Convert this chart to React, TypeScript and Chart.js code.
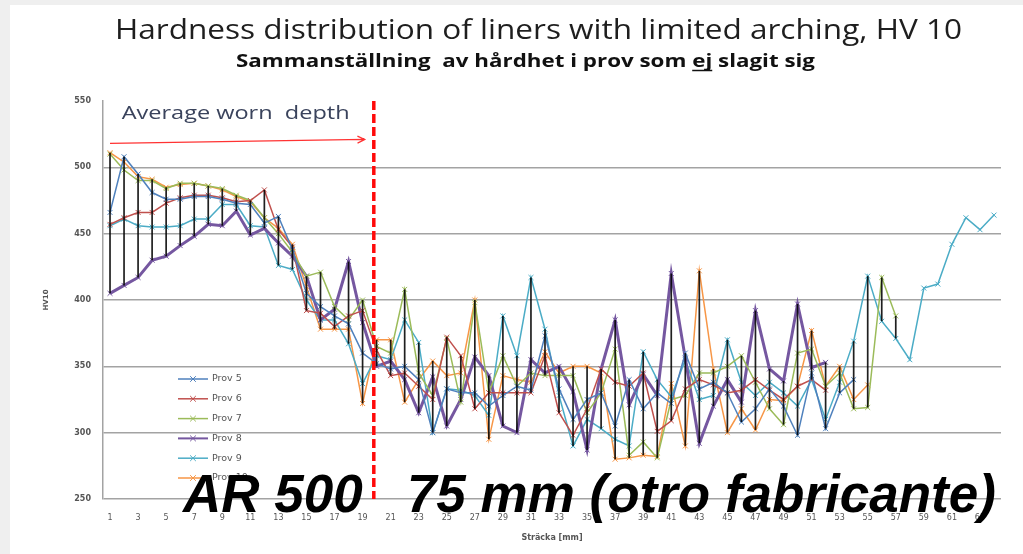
import React, { useEffect, useRef } from 'react';
import { Chart, registerables } from 'chart.js';

Chart.register(...registerables);

// ---------- data ----------
const categories = [
  '1', '2', '3', '4', '5', '6', '7', '8', '9', '10',
  '11', '12', '13', '14', '15', '16', '17', '18', '19', '20',
  '21', '22', '23', '24', '25', '26', '27', '28', '29', '30',
  '31', '32', '33', '34', '35', '36', '37', '38', '39', '40',
  '41', '42', '43', '44', '45', '46', '47', '48', '49', '50',
  '51', '52', '53', '54', '55', '56', '57', '58', '59', '60',
  '61', '62', '63', '64',
];

const _ = null;

const prov5 = [
  466, 508, 495, 481, 476, 476, 478, 478, 476, 473,
  472, 458, 463, 438, 405, 395, 388, 382, 360, 352,
  348, 350, 340, 300, 333, 330, 330, 320, 328, 335,
  332, 373, 333, 310, 325, 330, 305, 340, 318, 330,
  322, 360, 333, 338, 330, 308, 318, 333, 320, 298,
  345, 303, 330, 340, _, _, _, _, _, _,
  _, _, _, _,
];

const prov6 = [
  457, 462, 466, 466, 473, 477, 479, 479, 477, 474,
  475, 483, 453, 440, 392, 390, 380, 388, 392, 362,
  343, 345, 335, 325, 372, 358, 318, 330, 330, 330,
  330, 358, 315, 298, 318, 348, 338, 335, 345, 301,
  309, 333, 340, 336, 330, 332, 340, 332, 325, 335,
  340, 332, _, _, _, _, _, _, _, _,
  _, _, _, _,
];

const prov7 = [
  510, 498, 490, 490, 484, 488, 488, 486, 484, 479,
  475, 462, 450, 436, 418, 421, 395, 385, 400, 365,
  360, 408, 345, 328, 371, 323, 398, 330, 358, 335,
  345, 343, 343, 343, 315, 330, 363, 283, 293, 281,
  325, 328, 345, 345, 350, 358, 338, 318, 306, 360,
  363, 335, 345, 318, 319, 417, 388, _, _, _,
  _, _, _, _,
];

const prov8 = [
  405, 411, 417, 430, 433, 441, 448, 457, 456, 467,
  449, 454, 443, 433, 418, 385, 393, 429, 383, 350,
  354, 340, 315, 342, 305, 325, 357, 343, 305, 300,
  355, 345, 350, 331, 287, 348, 385, 321, 344, 328,
  420, 356, 292, 320, 340, 323, 392, 348, 339, 397,
  349, 353, _, _, _, _, _, _, _, _,
  _, _, _, _,
];

const prov9 = [
  456, 461, 456, 455, 455, 456, 461, 461, 472, 472,
  456, 455, 426, 423, 400, 385, 385, 367, 337, 358,
  355, 385, 368, 300, 333, 332, 328, 313, 388, 358,
  417, 378, 328, 290, 310, 303, 295, 290, 361, 340,
  327, 355, 325, 328, 370, 338, 328, 338, 330, 320,
  340, 310, 338, 369, 418, 384, 371, 355, 409, 412,
  442, 462, 453, 464,
];

const prov10 = [
  511, 504, 493, 491, 485, 487, 488, 486, 483, 478,
  474, 462, 454, 442, 410, 378, 378, 378, 322, 370,
  370, 323, 340, 354, 343, 345, 400, 295, 343, 340,
  338, 361, 345, 350, 350, 345, 280, 281, 283, 282,
  337, 290, 422, 348, 300, 318, 302, 325, 324, 335,
  377, 335, 350, 325, 336, _, _, _, _, _,
  _, _, _, _,
];

const seriesNames = ['Prov 5', 'Prov 6', 'Prov 7', 'Prov 8', 'Prov 9', 'Prov 10'];
const seriesValues = [prov5, prov6, prov7, prov8, prov9, prov10];
const seriesColors = ['#4F81BD', '#C0504D', '#9BBB59', '#7557A0', '#4BACC6', '#F79646'];
const seriesWidths = [1.5, 1.5, 1.5, 3, 1.5, 1.5];

const yMin = 250;
const yMax = 550;
const yStep = 50;

// annotation positions (in category index / value units)
const wornDepthIndex = 18.8;
const arrowFrom = { index: 0, value: 518 };
const arrowTo = { index: 18.15, value: 521 };
const wornTextPos = { index: 0.83, value: 540 };

const titleText = 'Hardness distribution of liners with limited arching, HV 10';
const subtitlePre = 'Sammanställning  av hårdhet i prov som ';
const subtitleUnder = 'ej';
const subtitlePost = ' slagit sig';
const wornText = 'Average worn  depth';
const overlayText = 'AR 500   75 mm (otro fabricante)';
const yTitle = 'HV10';
const xTitle = 'Sträcka [mm]';

// draws text at a given font size, scaled horizontally to a target width
function drawStretched(
  ctx: CanvasRenderingContext2D,
  text: string,
  font: string,
  x: number,
  y: number,
  target: number,
) {
  ctx.font = font;
  const w = ctx.measureText(text).width;
  const sx = target / w;
  ctx.save();
  ctx.translate(x, y);
  ctx.scale(sx, 1);
  ctx.fillText(text, 0, 0);
  ctx.restore();
  return sx;
}

function drawCross(ctx: CanvasRenderingContext2D, x: number, y: number, r: number) {
  const d = r * Math.SQRT1_2;
  ctx.beginPath();
  ctx.moveTo(x - d, y - d);
  ctx.lineTo(x + d, y + d);
  ctx.moveTo(x - d, y + d);
  ctx.lineTo(x + d, y - d);
  ctx.stroke();
}

const decorPlugin = {
  id: 'decor',
  beforeDraw(chart: any) {
    const { ctx, width, height } = chart;
    ctx.save();
    ctx.fillStyle = '#efefef';
    ctx.fillRect(0, 0, width, height);
    ctx.fillStyle = '#ffffff';
    ctx.fillRect(10, 5, width - 10, height - 5);
    ctx.restore();
  },
  afterDatasetsDraw(chart: any) {
    const { ctx } = chart;
    const xs = chart.scales.x;
    const ys = chart.scales.y;
    ctx.save();
    ctx.strokeStyle = 'rgba(0,0,0,0.88)';
    ctx.lineWidth = 1.7;
    for (let i = 0; i < categories.length; i++) {
      const vals = seriesValues.map((s) => s[i]).filter((v) => v !== null && v !== undefined) as number[];
      if (vals.length < 2) continue;
      const px = xs.getPixelForValue(i);
      ctx.beginPath();
      ctx.moveTo(px, ys.getPixelForValue(Math.max(...vals)));
      ctx.lineTo(px, ys.getPixelForValue(Math.min(...vals)));
      ctx.stroke();
    }
    ctx.restore();
  },
  afterDraw(chart: any) {
    const { ctx, chartArea } = chart;
    const xs = chart.scales.x;
    const ys = chart.scales.y;
    ctx.save();

    // Titles
    ctx.fillStyle = '#1e1e1e';
    ctx.textBaseline = 'alphabetic';
    ctx.textAlign = 'left';
    drawStretched(ctx, titleText, '400 28px "Open Sans"', 115, 39, 847);

    ctx.fillStyle = '#111';
    const fullSub = subtitlePre + subtitleUnder + subtitlePost;
    const subFont = '700 17px "Open Sans"';
    const sx = drawStretched(ctx, fullSub, subFont, 236, 67, 579);
    ctx.font = subFont;
    const ux = 236 + ctx.measureText(subtitlePre).width * sx;
    const uw = ctx.measureText(subtitleUnder).width * sx;
    ctx.strokeStyle = '#111';
    ctx.lineWidth = 1.5;
    ctx.beginPath();
    ctx.moveTo(ux, 70.5);
    ctx.lineTo(ux + uw, 70.5);
    ctx.stroke();

    // axis titles
    ctx.fillStyle = '#555';
    ctx.font = '700 8px "DejaVu Sans"';
    ctx.textAlign = 'center';
    ctx.textBaseline = 'middle';
    ctx.fillText(xTitle, (chartArea.left + chartArea.right) / 2, 538);
    ctx.save();
    ctx.translate(46, (chartArea.top + chartArea.bottom) / 2);
    ctx.rotate(-Math.PI / 2);
    ctx.font = '700 7px "DejaVu Sans"';
    ctx.fillText(yTitle, 0, 0);
    ctx.restore();

    // worn depth dashed line
    const dx = xs.getPixelForValue(wornDepthIndex);
    ctx.strokeStyle = '#ff0a0a';
    ctx.lineWidth = 3.5;
    ctx.setLineDash([9, 4]);
    ctx.beginPath();
    ctx.moveTo(dx, chartArea.top);
    ctx.lineTo(dx, chartArea.bottom);
    ctx.stroke();
    ctx.setLineDash([]);

    // arrow
    const ax0 = xs.getPixelForValue(arrowFrom.index);
    const ay0 = ys.getPixelForValue(arrowFrom.value);
    const ax1 = xs.getPixelForValue(arrowTo.index);
    const ay1 = ys.getPixelForValue(arrowTo.value);
    ctx.strokeStyle = '#ff3333';
    ctx.lineWidth = 1.3;
    ctx.beginPath();
    ctx.moveTo(ax0, ay0);
    ctx.lineTo(ax1, ay1);
    const ang = Math.atan2(ay1 - ay0, ax1 - ax0);
    const hl = 8;
    ctx.moveTo(ax1 - hl * Math.cos(ang - 0.45), ay1 - hl * Math.sin(ang - 0.45));
    ctx.lineTo(ax1, ay1);
    ctx.lineTo(ax1 - hl * Math.cos(ang + 0.45), ay1 - hl * Math.sin(ang + 0.45));
    ctx.stroke();

    // worn depth text
    ctx.fillStyle = '#3a435c';
    ctx.textAlign = 'left';
    ctx.textBaseline = 'middle';
    drawStretched(
      ctx,
      wornText,
      '400 18px "Open Sans"',
      xs.getPixelForValue(wornTextPos.index),
      ys.getPixelForValue(wornTextPos.value),
      228,
    );

    // legend
    const lx = chartArea.left + 75;
    const ly = chartArea.top + 278;
    ctx.font = '400 9.5px "DejaVu Sans"';
    ctx.textBaseline = 'middle';
    seriesNames.forEach((name, i) => {
      const yy = ly + i * 19.8;
      ctx.strokeStyle = seriesColors[i];
      ctx.lineWidth = i === 3 ? 2 : 1.5;
      ctx.beginPath();
      ctx.moveTo(lx, yy);
      ctx.lineTo(lx + 30, yy);
      ctx.stroke();
      ctx.lineWidth = 1;
      drawCross(ctx, lx + 15, yy, 4);
      ctx.fillStyle = '#555';
      ctx.fillText(name, lx + 34, yy);
    });

    // overlay text
    ctx.fillStyle = '#000';
    ctx.textAlign = 'left';
    ctx.textBaseline = 'alphabetic';
    ctx.font = 'italic 700 53px "Liberation Sans"';
    ctx.fillText(overlayText, chartArea.left + 80, chartArea.bottom + 13);

    ctx.restore();
  },
};

export default function App() {
  const canvasRef = useRef<HTMLCanvasElement | null>(null);

  useEffect(() => {
    const canvas = canvasRef.current;
    if (!canvas) return;
    const chart = new Chart(canvas, {
      type: 'line',
      data: {
        labels: categories,
        datasets: seriesNames.map((name, i) => ({
          label: name,
          data: seriesValues[i],
          borderColor: seriesColors[i],
          backgroundColor: seriesColors[i],
          borderWidth: seriesWidths[i],
          pointStyle: 'crossRot',
          pointRadius: 3.5,
          pointBorderWidth: 1,
          pointBorderColor: seriesColors[i],
          tension: 0,
          spanGaps: false,
        })),
      },
      options: {
        responsive: false,
        animation: false,
        devicePixelRatio: 1,
        layout: { padding: { top: 101, right: 22, left: 0, bottom: 0 } },
        plugins: {
          legend: { display: false },
          title: { display: false },
          tooltip: { enabled: false },
        },
        scales: {
          x: {
            type: 'category',
            offset: true,
            grid: { display: false, drawTicks: false },
            border: { display: false },
            ticks: {
              autoSkip: false,
              maxRotation: 0,
              minRotation: 0,
              padding: 14,
              color: '#555',
              font: { size: 8, family: '"DejaVu Sans"' },
              callback: function (this: any, v: any, i: number) {
                return i % 2 === 0 ? categories[i] : '';
              },
            },
            afterFit: (s: any) => {
              s.height = 55;
            },
          },
          y: {
            min: yMin,
            max: yMax,
            ticks: {
              stepSize: yStep,
              padding: 12,
              color: '#555',
              font: { size: 8, family: '"DejaVu Sans"', weight: 'bold' },
            },
            grid: {
              color: (c: any) => (c.tick && c.tick.value === yMax ? 'rgba(0,0,0,0)' : '#a3a3a3'),
              lineWidth: 1.5,
              drawTicks: false,
            },
            border: { color: '#a3a3a3', width: 1.5 },
            afterFit: (s: any) => {
              s.width = 103;
            },
          },
        },
      },
      plugins: [decorPlugin],
    } as any);
    return () => chart.destroy();
  }, []);

  return (
    <div style={{ position: 'fixed', left: 0, top: 0, width: 1023, height: 554, overflow: 'hidden' }}>
      <canvas ref={canvasRef} width={1023} height={554} style={{ display: 'block', width: 1023, height: 554 }} />
    </div>
  );
}
